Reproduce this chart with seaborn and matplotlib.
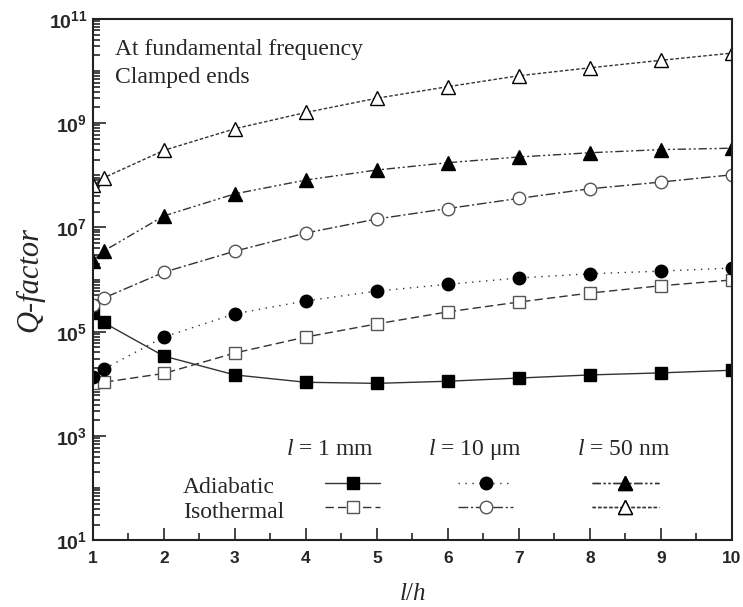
import math
import matplotlib
matplotlib.use("Agg")
import matplotlib.pyplot as plt
import matplotlib.ticker as mticker
import seaborn as sns
import pandas as pd

# ---- data ----
ratio = [1, 1.15, 2, 3, 4, 5, 6, 7, 8, 9, 10]
adi_1mm = [2.3e5, 1.5e5, 3.4e4, 1.48e4, 1.07e4, 1.02e4, 1.12e4, 1.29e4, 1.48e4, 1.62e4, 1.82e4]
iso_1mm = [1.02e4, 1.07e4, 1.58e4, 3.9e4, 7.9e4, 1.41e5, 2.4e5, 3.7e5, 5.5e5, 7.6e5, 9.8e5]
adi_10um = [1.35e4, 1.9e4, 7.9e4, 2.2e5, 3.9e5, 6.0e5, 8.1e5, 1.07e6, 1.29e6, 1.45e6, 1.66e6]
iso_10um = [3.2e5, 4.4e5, 1.38e6, 3.5e6, 7.8e6, 1.45e7, 2.3e7, 3.6e7, 5.5e7, 7.4e7, 1.02e8]
adi_50nm = [2.3e6, 3.5e6, 1.66e7, 4.4e7, 8.1e7, 1.26e8, 1.74e8, 2.24e8, 2.7e8, 3.1e8, 3.3e8]
iso_50nm = [6.5e7, 8.9e7, 3.0e8, 7.8e8, 1.6e9, 3.0e9, 5.0e9, 8.1e9, 1.15e10, 1.6e10, 2.2e10]

column_titles = [r"$l$ = 1 mm", r"$l$ = 10 μm", r"$l$ = 50 nm"]
row_labels = ["Adiabatic", "Isothermal"]
xticks = [1, 2, 3, 4, 5, 6, 7, 8, 9, 10]

sns.set_style("ticks")
plt.rcParams["font.family"] = ["Liberation Serif", "DejaVu Serif"]
plt.rcParams["mathtext.fontset"] = "custom"
plt.rcParams["mathtext.rm"] = "Liberation Serif"
plt.rcParams["mathtext.it"] = "Liberation Serif:italic"
plt.rcParams["mathtext.bf"] = "Liberation Sans:bold"

fig = plt.figure(figsize=(7.43, 6.07), dpi=100)
ax = fig.add_axes([0.125, 0.110, 0.860, 0.859])

series = [
    # (data, marker, filled, dashes, edgecolor)
    (adi_1mm, "s", True, "-", "k"),
    (iso_1mm, "s", False, (0, (6, 3)), "#555555"),
    (adi_10um, "o", True, (0, (1, 4)), "k"),
    (iso_10um, "o", False, (0, (7, 2, 1.5, 2)), "#555555"),
    (adi_50nm, "^", True, (0, (6, 2, 1.5, 2, 1.5, 2)), "k"),
    (iso_50nm, "^", False, (0, (2.5, 1.5)), "k"),
]

handles = []
for data, mk, filled, ls, ec in series:
    df = pd.DataFrame({"r": ratio, "q": data})
    sns.lineplot(data=df, x="r", y="q", ax=ax, color="#333333", linewidth=1.0,
                 linestyle=ls, marker=mk, markersize=9 if mk != "^" else 10,
                 markerfacecolor="k" if filled else "white",
                 markeredgecolor=ec, markeredgewidth=1.0, sort=False, legend=False)
    handles.append(ax.get_lines()[-1])

ax.set_yscale("log")
ax.set_xlim(1, 10)
ax.set_ylim(1e1, 1e11)
ax.set_xticks(xticks)
ax.xaxis.set_minor_locator(mticker.MultipleLocator(0.5))
ax.yaxis.set_major_locator(mticker.FixedLocator([1e1, 1e3, 1e5, 1e7, 1e9, 1e11]))
ax.yaxis.set_minor_locator(mticker.LogLocator(base=10, subs=range(1, 10), numticks=100))
ax.yaxis.set_major_formatter(mticker.FuncFormatter(
    lambda v, p: r"$\mathbf{10^{%d}}$" % round(math.log10(v))))
ax.yaxis.set_minor_formatter(mticker.NullFormatter())
ax.tick_params(which="both", direction="in", top=False, right=False, width=1.2)
ax.tick_params(which="major", length=9)
ax.tick_params(which="minor", length=5)
ax.tick_params(axis="x", labelsize=12.5, pad=8)
ax.tick_params(axis="y", labelsize=14, pad=4)
for lab in ax.get_xticklabels():
    lab.set_fontfamily("Liberation Sans")
    lab.set_fontweight("bold")
for sp in ax.spines.values():
    sp.set_linewidth(1.5)
    sp.set_color("#222222")

ax.set_xlabel(r"$l/h$", fontsize=18, labelpad=12)
ax.set_ylabel("Q-factor", fontsize=22, style="italic", labelpad=3)

ax.text(0.034, 0.931, "At fundamental frequency", transform=ax.transAxes, fontsize=17, va="baseline")
ax.text(0.034, 0.877, "Clamped ends", transform=ax.transAxes, fontsize=17, va="baseline")

# legend table: column headers, row labels, and one legend per column
for xc, title in zip([0.371, 0.598, 0.831], column_titles):
    ax.text(xc, 0.163, title, transform=ax.transAxes, fontsize=17, ha="center", va="baseline")
for yb, lab in zip([0.090, 0.042], row_labels):
    ax.text(0.141, yb, lab, transform=ax.transAxes, fontsize=17, ha="left", va="baseline")

common = dict(frameon=False, borderpad=0, fontsize=16, handletextpad=0,
              labelspacing=0.19, borderaxespad=0, loc="center left")
for i, (x0, hl) in enumerate(zip([0.363, 0.571, 0.781], [2.5, 2.5, 3.0])):
    leg = ax.legend([handles[2 * i], handles[2 * i + 1]], [" ", " "],
                    bbox_to_anchor=(x0, 0.082), handlelength=hl, **common)
    ax.add_artist(leg)

fig.savefig("out.png", dpi=100)
